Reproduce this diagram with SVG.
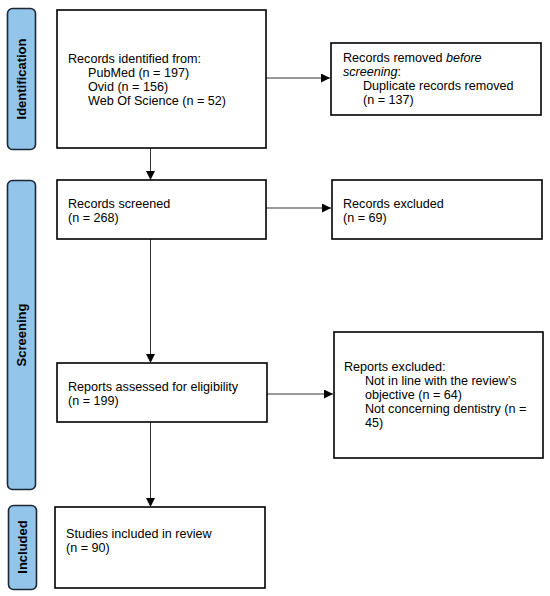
<svg xmlns="http://www.w3.org/2000/svg" width="550" height="596" viewBox="0 0 550 596">
<defs>
<marker id="ah" markerWidth="10" markerHeight="10" refX="9" refY="4.5" orient="auto" markerUnits="userSpaceOnUse">
<path d="M0,0 L9,4.5 L0,9 Z" fill="#000"/>
</marker>
<style>
.box{fill:#fff;stroke:#000;stroke-width:1.6}
.side{fill:#92c5e9;stroke:#1c2733;stroke-width:1.6}
.t{font-family:"Liberation Sans",Arial,sans-serif;font-size:12.6px;fill:#000}
.s{font-family:"Liberation Sans",Arial,sans-serif;font-size:13px;font-weight:bold;fill:#000}
.c{stroke:#333;stroke-width:1;fill:none;marker-end:url(#ah)}
</style>
</defs>
<rect width="550" height="596" fill="#fff"/>
<g id="side-identification"><rect class="side" x="7.5" y="8.5" width="28" height="141" rx="5"/><text class="s" transform="translate(26,79) rotate(-90)" text-anchor="middle">Identification</text></g>
<g id="side-screening"><rect class="side" x="7.5" y="180.5" width="28" height="309" rx="5"/><text class="s" transform="translate(26,335) rotate(-90)" text-anchor="middle">Screening</text></g>
<g id="side-included"><rect class="side" x="8.5" y="505.5" width="28" height="84" rx="5"/><text class="s" transform="translate(27,547) rotate(-90)" text-anchor="middle">Included</text></g>
<g id="connectors">
<line class="c" x1="266" y1="78" x2="330" y2="78"/>
<line class="c" x1="150.5" y1="148" x2="150.5" y2="180"/>
<line class="c" x1="266" y1="208" x2="331" y2="208"/>
<line class="c" x1="150.5" y1="239" x2="150.5" y2="363"/>
<line class="c" x1="267" y1="394" x2="333" y2="394"/>
<line class="c" x1="150.5" y1="422" x2="150.5" y2="507"/>
</g>
<g id="n1"><rect class="box" x="57" y="10" width="209" height="138"/>
<text class="t" x="68" y="62.5">Records identified from:</text>
<text class="t" x="88" y="76.7">PubMed (n = 197)</text>
<text class="t" x="88" y="90.9">Ovid (n = 156)</text>
<text class="t" x="88" y="105">Web Of Science (n = 52)</text></g>
<g id="n2"><rect class="box" x="331" y="43" width="210" height="72"/>
<text class="t" x="343" y="62">Records removed <tspan font-style="italic">before</tspan></text>
<text class="t" x="343" y="76"><tspan font-style="italic">screening</tspan>:</text>
<text class="t" x="363" y="90">Duplicate records removed</text>
<text class="t" x="363" y="104">(n = 137)</text></g>
<g id="n3"><rect class="box" x="57" y="180" width="209" height="59"/>
<text class="t" x="68" y="208">Records screened</text>
<text class="t" x="68" y="222">(n = 268)</text></g>
<g id="n4"><rect class="box" x="332" y="180" width="210" height="59"/>
<text class="t" x="343" y="208">Records excluded</text>
<text class="t" x="343" y="222">(n = 69)</text></g>
<g id="n5"><rect class="box" x="57" y="363" width="210" height="59"/>
<text class="t" x="68" y="391">Reports assessed for eligibility</text>
<text class="t" x="68" y="405">(n = 199)</text></g>
<g id="n6"><rect class="box" x="334" y="332" width="209" height="126"/>
<text class="t" x="344" y="371">Reports excluded:</text>
<text class="t" x="365" y="385">Not in line with the review’s</text>
<text class="t" x="365" y="399">objective (n = 64)</text>
<text class="t" x="365" y="413">Not concerning dentistry (n =</text>
<text class="t" x="365" y="427">45)</text></g>
<g id="n7"><rect class="box" x="55" y="507" width="210" height="81"/>
<text class="t" x="66" y="538">Studies included in review</text>
<text class="t" x="66" y="552">(n = 90)</text></g>
</svg>
